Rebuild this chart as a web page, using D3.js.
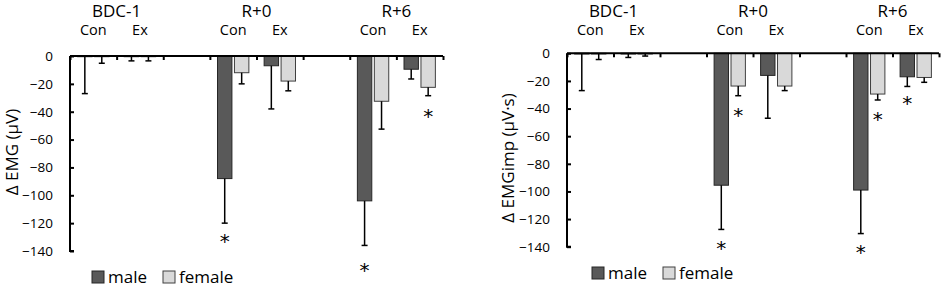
<!DOCTYPE html>
<html>
<head>
<meta charset="utf-8">
<script src="https://cdn.jsdelivr.net/npm/d3@7"></script>
<style>
  body { margin: 0; background: #fff; }
  svg text { font-family: "Open Sans", sans-serif; font-weight: 400; fill: #000; }
  .axis path, .axis line { stroke: #000; stroke-width: 2; }
</style>
</head>
<body>
<svg width="941" height="288"></svg>
<script>
// categories along the x axis (empty slots are the gaps between days)
var categories = ['BDC-1 Con', 'BDC-1 Ex', 'gap1', 'R+0 Con', 'R+0 Ex', 'gap2', 'R+6 Con', 'R+6 Ex'];
var condLabels = ['Con', 'Ex', '', 'Con', 'Ex', '', 'Con', 'Ex'];
var dayLabels = ['BDC-1', 'R+0', 'R+6'];
var dayPos = [1, 4, 7];            // boundary index between Con and Ex of each day
var sexes = ['male', 'female'];
var yTicks = [0, -20, -40, -60, -80, -100, -120, -140];

// Δ EMG (µV)
var emgMale      = [-0.5, -0.5, null, -88, -7, null, -104, -9.5];
var emgMaleErr   = [26.5, 3, null, 32, 31, null, 32, 7];
var emgFemale    = [-0.5, -0.5, null, -12, -18, null, -32.5, -22.5];
var emgFemaleErr = [4.7, 3, null, 8, 7, null, 20, 6];
var emgMaleStar   = [null, null, null, -130, null, null, -151, null];
var emgFemaleStar = [null, null, null, null, null, null, null, -40];

// Δ EMGimp (µV·s)
var impMale      = [-0.5, -0.5, null, -95.5, -16, null, -99, -17];
var impMaleErr   = [26.5, 2.5, null, 32, 31, null, 31.5, 7];
var impFemale    = [-0.5, -0.5, null, -23.7, -23.7, null, -29.5, -17.5];
var impFemaleErr = [4, 1.5, null, 7, 3.3, null, 4.3, 3.5];
var impMaleStar   = [null, null, null, -138, null, null, -141, -33];
var impFemaleStar = [null, null, null, -42, null, null, -45, null];

var colors = { male: '#595959', female: '#d9d9d9' };
var strokes = { male: '#262626', female: '#404040' };

var svg = d3.select('svg');

function panel(opts) {
  var g = svg.append('g');

  var yScale = d3.scaleLinear()
                 .domain([0, -140])
                 .range([opts.y0, opts.y1]);

  var xBand = d3.scaleBand()
                .domain(categories)
                .range([opts.x0, opts.x1]);

  var sexBand = d3.scaleBand()
                  .domain(sexes)
                  .range([0, xBand.bandwidth()])
                  .paddingInner(0.15)
                  .paddingOuter(0.45);

  var rows = categories.map(function(c, i) {
    return {
      cat: c,
      male: opts.male[i], maleErr: opts.maleErr[i], maleStar: opts.maleStar[i],
      female: opts.female[i], femaleErr: opts.femaleErr[i], femaleStar: opts.femaleStar[i]
    };
  });

  var items = [];
  rows.forEach(function(r) {
    sexes.forEach(function(s) {
      if (r[s] == null) return;
      items.push({ cat: r.cat, sex: s, value: r[s], err: r[s + 'Err'], star: r[s + 'Star'] });
    });
  });

  function cx(d) { return xBand(d.cat) + sexBand(d.sex) + sexBand.bandwidth() / 2; }

  // bars
  g.selectAll('rect.bar')
    .data(items)
    .enter()
    .append('rect')
    .attr('class', 'bar')
    .attr('x', function(d) { return xBand(d.cat) + sexBand(d.sex); })
    .attr('y', yScale(0))
    .attr('width', sexBand.bandwidth())
    .attr('height', function(d) { return yScale(d.value) - yScale(0); })
    .style('fill', function(d) { return colors[d.sex]; })
    .style('stroke', function(d) { return strokes[d.sex]; })
    .style('stroke-width', 1);

  // error bars (downward only)
  var eb = g.selectAll('g.err')
    .data(items)
    .enter()
    .append('g')
    .attr('class', 'err')
    .attr('transform', function(d) { return 'translate(' + cx(d) + ',0)'; });
  eb.append('line')
    .attr('y1', function(d) { return yScale(d.value); })
    .attr('y2', function(d) { return yScale(d.value - d.err); })
    .style('stroke', '#000')
    .style('stroke-width', 1.5);
  eb.append('line')
    .attr('x1', -3).attr('x2', 3)
    .attr('y1', function(d) { return yScale(d.value - d.err); })
    .attr('y2', function(d) { return yScale(d.value - d.err); })
    .style('stroke', '#000')
    .style('stroke-width', 1.5);

  // significance stars
  g.selectAll('text.star')
    .data(items.filter(function(d) { return d.star != null; }))
    .enter()
    .append('text')
    .attr('class', 'star')
    .attr('x', cx)
    .attr('y', function(d) { return yScale(d.star); })
    .attr('dy', '0.55em')
    .attr('text-anchor', 'middle')
    .style('font-family', '"DejaVu Sans", sans-serif')
    .style('font-size', '20px')
    .text('*');

  // y axis
  var yAxis = d3.axisLeft(yScale)
                .tickValues(yTicks)
                .tickSize(-4)
                .tickPadding(17);
  g.append('g')
    .attr('class', 'axis')
    .attr('transform', 'translate(' + opts.x0 + ',0)')
    .call(yAxis)
    .call(function(a) {
      a.select('.domain').attr('d', 'M0,' + opts.y0 + 'V' + opts.y1 + 'h4');
      a.selectAll('text').style('font-size', '13.5px');
    });

  // x axis along zero, ticks at category boundaries
  var xEdges = d3.scaleLinear()
                 .domain([0, categories.length])
                 .range([opts.x0, opts.x1]);
  var xAxis = d3.axisBottom(xEdges)
                .ticks(categories.length)
                .tickSize(4)
                .tickFormat('');
  g.append('g')
    .attr('class', 'axis')
    .attr('transform', 'translate(0,' + yScale(0) + ')')
    .call(xAxis)
    .call(function(a) {
      a.select('.domain').attr('d', 'M' + opts.x0 + ',0H' + opts.x1);
    });

  // condition labels on top
  g.selectAll('text.cond')
    .data(categories)
    .enter()
    .append('text')
    .attr('class', 'cond')
    .attr('x', function(c) { return xBand(c) + xBand.bandwidth() / 2; })
    .attr('y', 35)
    .attr('text-anchor', 'middle')
    .style('font-size', '14.5px')
    .text(function(c, i) { return condLabels[i]; });

  g.selectAll('text.day')
    .data(dayLabels)
    .enter()
    .append('text')
    .attr('class', 'day')
    .attr('x', function(d, i) { return xEdges(dayPos[i]); })
    .attr('y', 17)
    .attr('text-anchor', 'middle')
    .style('font-size', '17px')
    .text(function(d) { return d; });

  // y label
  g.append('text')
    .attr('transform', 'translate(' + opts.labelX + ',' + opts.labelY + ') rotate(-90)')
    .attr('text-anchor', 'middle')
    .attr('dy', '0.35em')
    .style('font-size', '17px')
    .text(opts.label);

  // legend
  var leg = g.selectAll('g.leg')
    .data(sexes)
    .enter()
    .append('g')
    .attr('class', 'leg')
    .attr('transform', function(d, i) {
      return 'translate(' + (opts.legX + i * 71) + ',' + opts.legY + ')';
    });
  leg.append('rect')
    .attr('x', 0).attr('y', -6)
    .attr('width', 12).attr('height', 12)
    .style('fill', function(d) { return colors[d]; })
    .style('stroke', function(d) { return strokes[d]; });
  leg.append('text')
    .attr('x', 16)
    .attr('dy', '0.35em')
    .style('font-size', '17px')
    .text(function(d) { return d; });
}

panel({
  x0: 70, x1: 443, y0: 56, y1: 251,
  male: emgMale, maleErr: emgMaleErr, maleStar: emgMaleStar,
  female: emgFemale, femaleErr: emgFemaleErr, femaleStar: emgFemaleStar,
  label: 'Δ EMG (μV)', labelX: 12, labelY: 152,
  legX: 92, legY: 277
});

panel({
  x0: 567, x1: 939, y0: 53.3, y1: 246.7,
  male: impMale, maleErr: impMaleErr, maleStar: impMaleStar,
  female: impFemale, femaleErr: impFemaleErr, femaleStar: impFemaleStar,
  label: 'Δ EMGimp (μV·s)', labelX: 508, labelY: 158,
  legX: 592, legY: 273
});
</script>
</body>
</html>
